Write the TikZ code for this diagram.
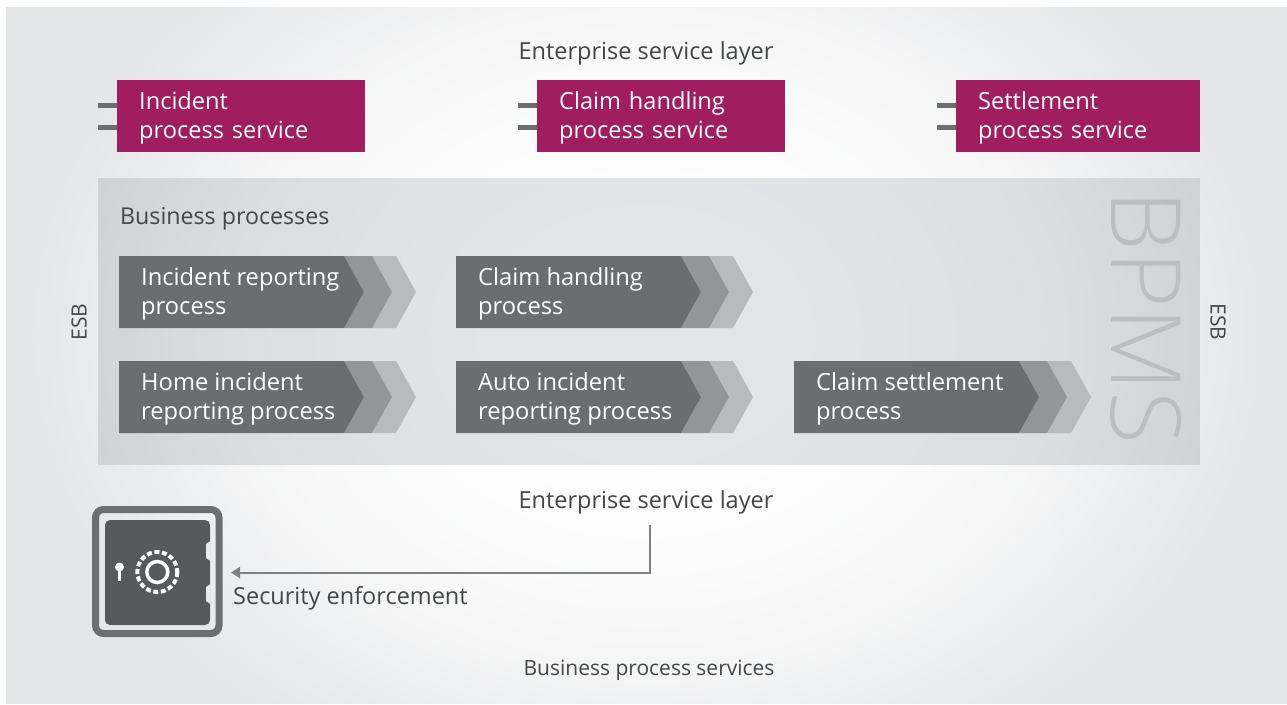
\documentclass[tikz,border=0pt]{standalone}
\usepackage{fontspec}
\setmainfont{Open Sans}
\newfontfamily\lightfont{Open Sans Light}
\usetikzlibrary{arrows.meta,calc}
\definecolor{bgc}{HTML}{E5E6E8}
\definecolor{magent}{HTML}{A01D60}
\definecolor{stubc}{HTML}{6D6E71}
\definecolor{chA}{HTML}{6C6D71}
\definecolor{chB}{HTML}{939598}
\definecolor{chC}{HTML}{B9BABD}
\definecolor{txt}{HTML}{454648}
\definecolor{safec}{HTML}{58595B}
\definecolor{safeo}{HTML}{6D6E71}
\definecolor{flowc}{HTML}{7F8083}
\definecolor{panelc}{HTML}{5E6470}
\pgfdeclareradialshading{bgshade}{\pgfpoint{0bp}{0bp}}{color(0bp)=(white);color(8bp)=(white);color(25bp)=(white!82!bgc);color(35bp)=(white!60!bgc);color(43bp)=(white!25!bgc);color(50bp)=(bgc);color(100bp)=(bgc)}
\tikzset{
 x=1pt,y=-1pt,
 plain/.style={inner sep=0pt,text=txt,font=\fontsize{23.5}{29}\selectfont},
 svc/.style={anchor=north west,fill=magent,text=white,inner sep=0pt,inner xsep=22pt,minimum height=72pt,align=left,font=\fontsize{23.6}{29}\selectfont},
 stub/.style={stubc,line width=5pt},
 proc/.style={inner sep=0pt,anchor=west,align=left,text=white,font=\fontsize{23.7}{29}\selectfont},
 flow/.style={draw=flowc,line width=2pt,-{Triangle[length=9pt,width=11pt]}},
}
\newcommand{\chev}[2]{%
 \fill[chC] (#1+277,#2) -- (#1+297,#2+36) -- (#1+277,#2+72) -- (#1+253,#2+72) -- (#1+273,#2+36) -- (#1+253,#2) -- cycle;
 \fill[chB] (#1+225,#2) -- (#1+253,#2) -- (#1+273,#2+36) -- (#1+253,#2+72) -- (#1+225,#2+72) -- (#1+245,#2+36) -- cycle;
 \fill[chA] (#1,#2) -- (#1+225,#2) -- (#1+245,#2+36) -- (#1+225,#2+72) -- (#1,#2+72) -- cycle;
}
\newcommand{\lowr}{\rule{0pt}{22pt}}
\begin{document}
\begin{tikzpicture}
\useasboundingbox (0,0) rectangle (1287,704);
\fill[white] (0,0) rectangle (1287,704);
\begin{scope}
\clip (6,7) rectangle (1287,703);
\fill[bgc] (6,7) rectangle (1287,703);
\node[inner sep=0pt,outer sep=0pt] (bgglow) at (646,335) {\resizebox{2480pt}{1920pt}{\pgfuseshading{bgshade}}};
\end{scope}
\node[plain] (top) at (646,53) {Enterprise service layer};
\node[svc,minimum width=248pt,text width=204pt] (s1) at (117,80) {\lowr Incident\\process service};
\node[svc,minimum width=248pt,text width=204pt] (s2) at (537,80) {\lowr Claim handling\\process service};
\node[svc,minimum width=244pt,text width=200pt] (s3) at (956,80) {\lowr Settlement\\process service};
\foreach \s in {s1,s2,s3}{
 \draw[stub] ([yshift=10.3pt]\s.west) -- ++(-19,0);
 \draw[stub] ([yshift=-11pt]\s.west) -- ++(-19,0);
}
\fill[fill=panelc,opacity=.17] (98,178) rectangle (1200,465);
\node[inner sep=0pt,anchor=base west,text=chC,opacity=.85,rotate=-90,font=\lightfont\fontsize{97}{97}\selectfont] (bpms) at (1111,190) {BPMS};
\node[plain,anchor=west,font=\fontsize{23.2}{29}\selectfont] (bp) at (120,219) {Business processes};
\chev{119}{256}
\chev{456}{256}
\chev{119}{361}
\chev{456}{361}
\chev{794}{361}
\node[proc] (p1) at (141,294) {Incident reporting\\process};
\node[proc] (p2) at (478,294) {Claim handling\\process};
\node[proc] (p3) at (141,399) {Home incident\\reporting process};
\node[proc] (p4) at (478,399) {Auto incident\\reporting process};
\node[proc] (p5) at (816,399) {Claim settlement\\process};
\node[plain,rotate=90,font=\fontsize{21}{22}\selectfont] (e1) at (79,322) {ESB};
\node[plain,rotate=-90,font=\fontsize{21}{22}\selectfont] (e2) at (1218,322) {ESB};
\node[plain] (low) at (646,502) {Enterprise service layer};
\node[plain,anchor=west] (sec) at (233,598) {Security enforcement};
\node[plain,font=\fontsize{21}{26}\selectfont] (bs) at (649,670) {Business process services};
% safe
\draw[safeo,line width=7pt,rounded corners=8pt] (95.5,509.5) rectangle (219,633.5);
\fill[safec,rounded corners=5pt] (105,520) -- (210,520) -- (210,625) -- (105,625) -- cycle;
\fill[bgc!80!white] (210.5,541) -- (206,544) -- (206,558) -- (210.5,561) -- cycle;
\fill[bgc!80!white] (210.5,584) -- (206,587) -- (206,601) -- (210.5,604) -- cycle;
\coordinate (safeport) at (231,572.5);
\coordinate (lowfoot) at (649.5,525);
\fill[white] (119.5,567) circle (4.5);
\draw[white,line width=3.5pt] (119.5,567) -- (119.5,581);
\draw[white,line width=4pt,dash pattern=on 5pt off 2.6pt] (157.3,572) circle (20);
\draw[white,line width=3.5pt] (157.3,572) circle (10.5);
\draw[flow] (lowfoot) -- (649.5,572.5) -- (safeport);
\end{tikzpicture}
\end{document}
